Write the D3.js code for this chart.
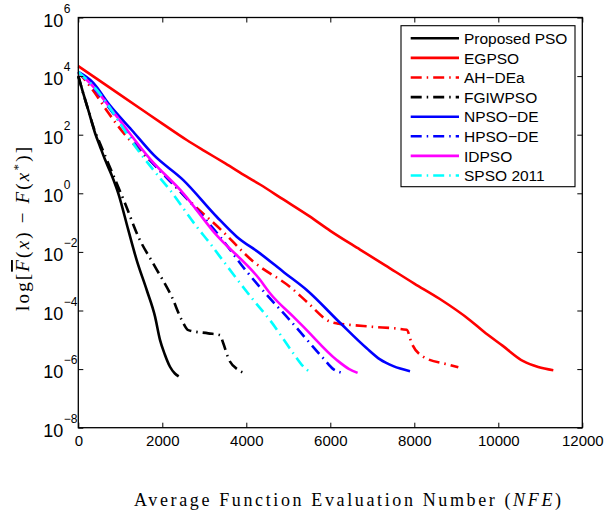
<!DOCTYPE html>
<html>
<head>
<meta charset="utf-8">
<script src="https://cdn.jsdelivr.net/npm/d3@7"></script>
<style>
  html, body { margin: 0; padding: 0; background: #fff; }
  svg { display: block; }
</style>
</head>
<body>
<div id="chart"></div>
<script>
// Each point is [NFE, log10(mean error)]
const proposedPSO = [[0,4.0],[120,3.4],[238,2.84],[400,2.05],[517,1.6],[636,1.15],[800,0.6],[952,0.0],[1190,-1.25],[1390,-2.28],[1629,-3.3],[1826,-4.2],[1945,-5.0],[2060,-5.5],[2183,-5.92],[2300,-6.15],[2390,-6.25]];
const egpso = [[0,4.34],[357,3.99],[1000,3.36],[1500,2.87],[2000,2.38],[2581,1.82],[3000,1.45],[3500,1.02],[4010,0.57],[4326,0.3],[4881,-0.21],[5500,-0.78],[6000,-1.28],[6707,-1.92],[7300,-2.45],[8000,-3.08],[8600,-3.6],[9326,-4.33],[9643,-4.71],[10100,-5.2],[10595,-5.73],[10950,-5.93],[11310,-6.04]];
const ahDEa = [[0,4.14],[357,3.5],[714,2.75],[1112,2.0],[1469,1.45],[1867,0.9],[2581,-0.17],[3400,-1.25],[4167,-2.33],[5081,-3.24],[5438,-3.7],[5993,-4.38],[6200,-4.45],[6469,-4.49],[6945,-4.55],[7819,-4.66],[7938,-5.12],[8214,-5.58],[8850,-5.86],[9048,-5.94]];
const fgiwpso = [[0,4.0],[120,3.4],[238,2.84],[400,2.1],[517,1.7],[714,1.02],[1112,-0.34],[1429,-1.48],[1826,-2.5],[2224,-3.53],[2462,-4.32],[2619,-4.67],[3095,-4.78],[3374,-4.84],[3452,-5.12],[3572,-5.63],[3810,-6.03],[3969,-6.14]];
const npsoDE = [[0,4.14],[357,3.77],[714,3.07],[1271,2.16],[1800,1.3],[2500,0.45],[3295,-0.8],[3772,-1.48],[4326,-2.05],[4900,-2.7],[5438,-3.3],[6231,-4.42],[6867,-5.29],[7184,-5.67],[7500,-5.9],[7898,-6.07]];
const hpsoDE = [[0,4.14],[350,3.62],[900,2.6],[1728,1.1],[2500,-0.05],[3374,-1.48],[4010,-2.67],[4724,-3.84],[4962,-4.21],[5833,-5.63],[6072,-6.0],[6310,-6.13]];
const idpso = [[0,4.14],[350,3.65],[900,2.65],[1728,1.14],[2500,0.0],[3255,-1.37],[4326,-2.95],[4564,-3.41],[5119,-4.21],[5357,-4.55],[6153,-5.69],[6450,-6.0],[6650,-6.13]];
const spso2011 = [[0,4.14],[357,3.66],[1469,1.38],[1786,0.8],[2183,0.11],[2819,-1.14],[3136,-1.71],[3493,-2.39],[4167,-3.64],[4564,-4.33],[5119,-5.46],[5350,-5.9],[5557,-6.14]];

const seriesNames = ['Proposed PSO', 'EGPSO', 'AH\u2212DEa', 'FGIWPSO', 'NPSO\u2212DE', 'HPSO\u2212DE', 'IDPSO', 'SPSO 2011'];
const xTickValues = [0, 2000, 4000, 6000, 8000, 10000, 12000];
const yTickExponents = [6, 4, 2, 0, -2, -4, -6, -8];

(function() {
  const width = 614, height = 513;
  const sans = '"Liberation Sans", Arial, Helvetica, sans-serif';
  const serif = '"Liberation Serif", "DejaVu Serif", "Times New Roman", serif';

  const x = d3.scaleLinear().domain([0, 12000]).range([78.3, 582.3]);
  const y = d3.scaleLog().domain([1e-8, 1e6]).range([427.7, 17.5]);

  const dashDot = '11,5,1.5,5';
  const series = [
    { data: proposedPSO, color: '#000000', dash: null },
    { data: egpso,       color: '#ff0000', dash: null },
    { data: ahDEa,       color: '#ff0000', dash: dashDot },
    { data: fgiwpso,     color: '#000000', dash: dashDot },
    { data: npsoDE,      color: '#0000ff', dash: null },
    { data: hpsoDE,      color: '#0000ff', dash: dashDot },
    { data: idpso,       color: '#ff00ff', dash: null },
    { data: spso2011,    color: '#00ffff', dash: dashDot }
  ].map((s, i) => Object.assign(s, { name: seriesNames[i] }));

  const svg = d3.select('#chart').append('svg')
    .attr('width', width).attr('height', height)
    .style('background', '#fff');

  const line = d3.line()
    .x(d => x(d[0]))
    .y(d => y(Math.pow(10, d[1])))
    .curve(d3.curveMonotoneX);

  svg.append('g').selectAll('path')
    .data(series)
    .join('path')
    .attr('d', d => line(d.data))
    .attr('fill', 'none')
    .attr('stroke', d => d.color)
    .attr('stroke-width', 2.6)
    .attr('stroke-linejoin', 'round')
    .attr('stroke-dasharray', d => d.dash);

  // axes: ticks point inward on all four sides
  const tickLen = 5;
  const axisStyle = g => {
    g.select('.domain').remove();
    g.selectAll('.tick line').attr('stroke', '#000').attr('stroke-width', 1);
  };

  svg.append('g')
    .attr('transform', `translate(0,${y.range()[0]})`)
    .call(d3.axisBottom(x).tickValues(xTickValues).tickSizeInner(-tickLen).tickSizeOuter(0).tickPadding(8).tickFormat(d3.format('d')))
    .call(axisStyle)
    .call(g => g.selectAll('.tick text').style('font', `15px ${sans}`).attr('fill', '#000'));

  svg.append('g')
    .attr('transform', `translate(0,${y.range()[1]})`)
    .call(d3.axisTop(x).tickValues(xTickValues).tickSizeInner(-tickLen).tickSizeOuter(0).tickFormat(''))
    .call(axisStyle);

  const yTicks = yTickExponents.map(e => Math.pow(10, e));
  svg.append('g')
    .attr('transform', `translate(${x.range()[1]},0)`)
    .call(d3.axisRight(y).tickValues(yTicks).tickSizeInner(-tickLen).tickSizeOuter(0).tickFormat(''))
    .call(axisStyle);

  svg.append('g')
    .attr('transform', `translate(${x.range()[0]},0)`)
    .call(d3.axisLeft(y).tickValues(yTicks).tickSizeInner(-tickLen).tickSizeOuter(0).tickFormat(''))
    .call(axisStyle)
    .call(g => g.selectAll('.tick').each(function(d) {
      const e = Math.round(Math.log10(d));
      const tick = d3.select(this);
      tick.append('text')
        .attr('x', -15).attr('y', 8.5)
        .attr('text-anchor', 'end')
        .attr('fill', '#000')
        .style('font', `18px ${sans}`)
        .text('10');
      tick.append('text')
        .attr('x', -14.5).attr('y', -5.2)
        .attr('text-anchor', 'start')
        .attr('fill', '#000')
        .style('font', `12px ${sans}`)
        .text(e < 0 ? '\u2212' + Math.abs(e) : String(e));
    }));

  // frame
  svg.append('rect')
    .attr('x', x.range()[0]).attr('y', y.range()[1])
    .attr('width', x.range()[1] - x.range()[0])
    .attr('height', y.range()[0] - y.range()[1])
    .attr('fill', 'none').attr('stroke', '#000').attr('stroke-width', 1.3);

  // legend
  const legend = svg.append('g');
  legend.append('rect')
    .attr('x', 401).attr('y', 25.7).attr('width', 174).attr('height', 161)
    .attr('fill', '#fff').attr('stroke', '#000').attr('stroke-width', 1.1);
  const item = legend.selectAll('g.item')
    .data(series)
    .join('g')
    .attr('class', 'item')
    .attr('transform', (d, i) => `translate(0,${38.3 + i * 19.6})`);
  item.append('line')
    .attr('x1', 410.7).attr('x2', 459).attr('y1', 0).attr('y2', 0)
    .attr('stroke', d => d.color).attr('stroke-width', 2.6)
    .attr('stroke-dasharray', d => d.dash);
  item.append('text')
    .attr('x', 464).attr('y', 5.7)
    .attr('fill', '#000')
    .style('font', `15.5px ${sans}`)
    .text(d => d.name);

  // axis titles
  const xt = svg.append('text')
    .attr('x', 134).attr('y', 506)
    .attr('textLength', 427).attr('lengthAdjust', 'spacing')
    .attr('fill', '#000')
    .style('font', `18px ${serif}`);
  xt.append('tspan').text('Average Function Evaluation Number (');
  xt.append('tspan').style('font-style', 'italic').text('NFE');
  xt.append('tspan').text(')');

  const yt = svg.append('text')
    .attr('transform', 'translate(29,311) rotate(-90)')
    .attr('textLength', 164).attr('lengthAdjust', 'spacing')
    .attr('fill', '#000')
    .style('font', `19px ${serif}`);
  yt.append('tspan').text('log[');
  yt.append('tspan').style('font-style', 'italic').style('text-decoration', 'overline').text('F');
  yt.append('tspan').text('(');
  yt.append('tspan').style('font-style', 'italic').text('x');
  yt.append('tspan').text(') \u2212 ');
  yt.append('tspan').style('font-style', 'italic').text('F');
  yt.append('tspan').text('(');
  yt.append('tspan').style('font-style', 'italic').text('x');
  yt.append('tspan').attr('dy', -7).style('font-size', '13px').text('*');
  yt.append('tspan').attr('dy', 7).text(')]');
})();
</script>
</body>
</html>
